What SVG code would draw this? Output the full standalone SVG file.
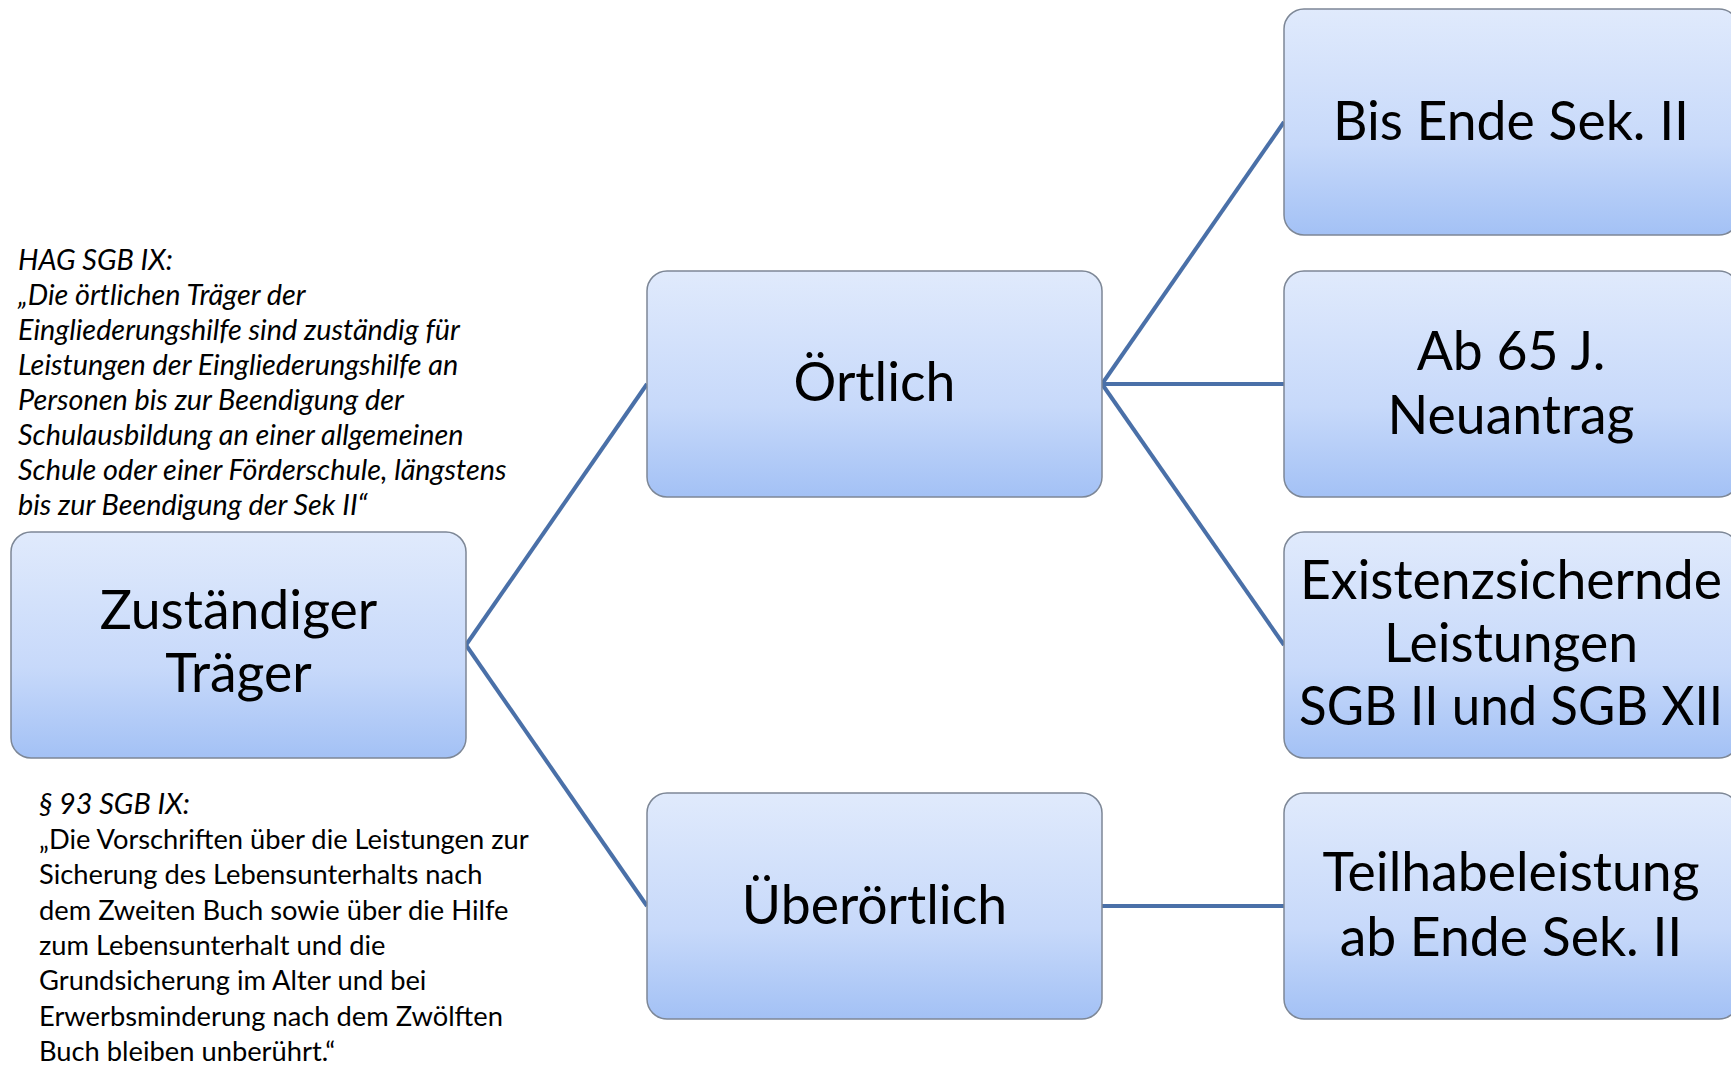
<svg xmlns="http://www.w3.org/2000/svg" width="1731" height="1065" viewBox="0 0 1731 1065">
<defs>
<linearGradient id="g" x1="0" y1="0" x2="0" y2="1">
<stop offset="0" stop-color="#e0eafc"/>
<stop offset="0.6" stop-color="#c7d9fa"/>
<stop offset="1" stop-color="#a3c1f5"/>
</linearGradient>
<style>
.box{fill:url(#g);stroke:#7d8796;stroke-width:1.5}
.t{font-family:Lato,"Liberation Sans",sans-serif;font-size:53.5px;fill:#000;text-anchor:middle}
.a{font-family:Lato,"Liberation Sans",sans-serif;font-size:27.3px;fill:#000}
.i{font-style:italic;font-size:28.8px}
.c{stroke:#4a70a8;stroke-width:4;fill:none}
</style>
</defs>
<rect width="1731" height="1065" fill="#fff"/>
<g id="connectors">
<line class="c" x1="466" y1="645" x2="647" y2="384"/>
<line class="c" x1="466" y1="645" x2="647" y2="906"/>
<line class="c" x1="1102" y1="384" x2="1284" y2="122"/>
<line class="c" x1="1102" y1="384" x2="1284" y2="384"/>
<line class="c" x1="1102" y1="384" x2="1284" y2="645"/>
<line class="c" x1="1102" y1="906" x2="1284" y2="906"/>
</g>
<g id="n-traeger">
<rect class="box" x="11" y="532" width="455" height="226" rx="20"/>
<text class="t" x="238.5" y="629">Zuständiger</text>
<text class="t" x="238.5" y="692">Träger</text>
</g>
<g id="n-oertlich">
<rect class="box" x="647" y="271" width="455" height="226" rx="20"/>
<text class="t" x="874.5" y="401">Örtlich</text>
</g>
<g id="n-ueberoertlich">
<rect class="box" x="647" y="793" width="455" height="226" rx="20"/>
<text class="t" x="874.5" y="924">Überörtlich</text>
</g>
<g id="n-bis-ende">
<rect class="box" x="1284" y="9" width="455" height="226" rx="20"/>
<text class="t" x="1511" y="140">Bis Ende Sek. II</text>
</g>
<g id="n-ab65">
<rect class="box" x="1284" y="271" width="455" height="226" rx="20"/>
<text class="t" x="1511" y="370">Ab 65 J.</text>
<text class="t" x="1511" y="434">Neuantrag</text>
</g>
<g id="n-existenz">
<rect class="box" x="1284" y="532" width="455" height="226" rx="20"/>
<text class="t" x="1511" y="599">Existenzsichernde</text>
<text class="t" x="1511" y="662">Leistungen</text>
<text class="t" x="1511" y="725" textLength="424" lengthAdjust="spacingAndGlyphs">SGB II und SGB XII</text>
</g>
<g id="n-teilhabe">
<rect class="box" x="1284" y="793" width="455" height="226" rx="20"/>
<text class="t" x="1511" y="891">Teilhabeleistung</text>
<text class="t" x="1511" y="956">ab Ende Sek. II</text>
</g>
<g id="note-hag" class="a i">
<text x="18" y="270">HAG SGB IX:</text>
<text x="18" y="305">„Die örtlichen Träger der</text>
<text x="18" y="340">Eingliederungshilfe sind zuständig für</text>
<text x="18" y="375">Leistungen der Eingliederungshilfe an</text>
<text x="18" y="410">Personen bis zur Beendigung der</text>
<text x="18" y="445">Schulausbildung an einer allgemeinen</text>
<text x="18" y="480">Schule oder einer Förderschule, längstens</text>
<text x="18" y="515">bis zur Beendigung der Sek II“</text>
</g>
<g id="note-93" class="a">
<text class="i" x="39" y="814">§ 93 SGB IX:</text>
<text x="39" y="849">„Die Vorschriften über die Leistungen zur</text>
<text x="39" y="884">Sicherung des Lebensunterhalts nach</text>
<text x="39" y="920">dem Zweiten Buch sowie über die Hilfe</text>
<text x="39" y="955">zum Lebensunterhalt und die</text>
<text x="39" y="990">Grundsicherung im Alter und bei</text>
<text x="39" y="1026">Erwerbsminderung nach dem Zwölften</text>
<text x="39" y="1061">Buch bleiben unberührt.“</text>
</g>
</svg>
